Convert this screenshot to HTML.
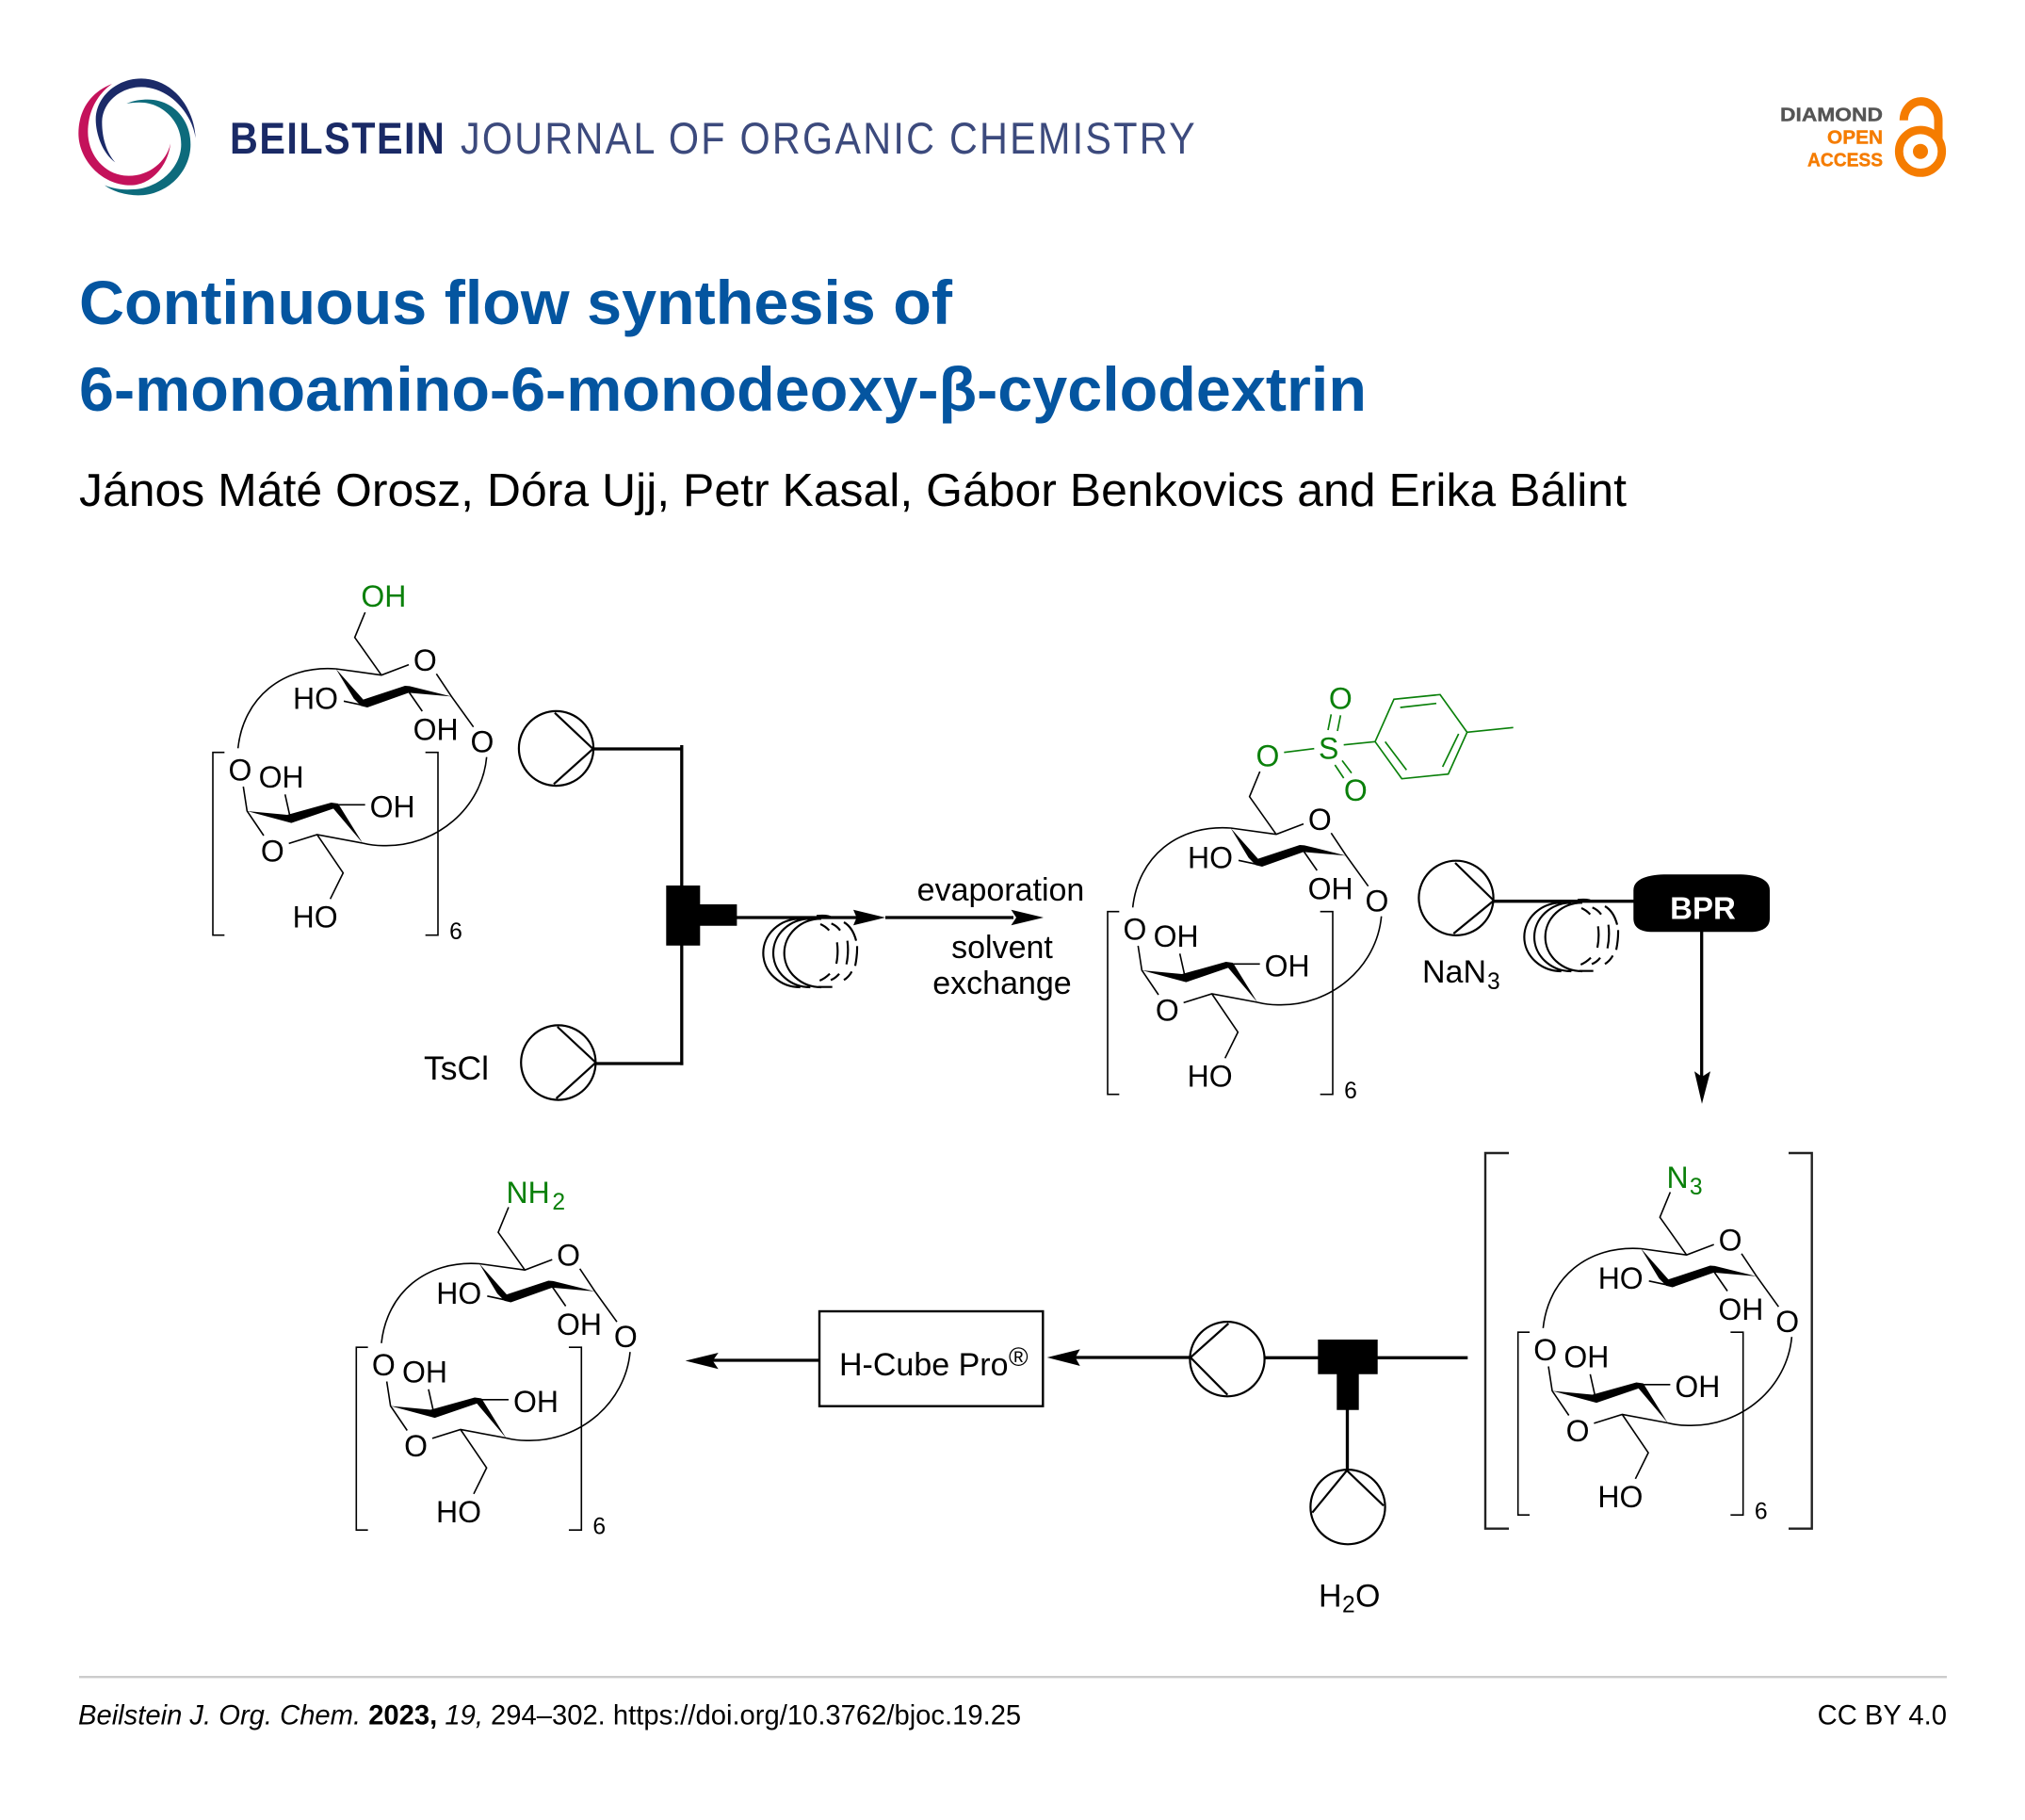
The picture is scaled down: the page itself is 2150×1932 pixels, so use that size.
<!DOCTYPE html>
<html><head><meta charset="utf-8"><style>
html,body{margin:0;padding:0;background:#fff}
svg{display:block}
text{font-family:"Liberation Sans",sans-serif}
.m text{font-size:96px;fill:#000;text-anchor:middle}
.m .s{font-size:74px}
.m .g{fill:#0a800a}
.l{fill:none;stroke:#000;stroke-width:3.3}
.c{fill:none;stroke:#000;stroke-width:2.2}
.t{font-size:34px;fill:#000}
</style></head><body>
<svg width="2150" height="1932" viewBox="0 0 2150 1932" xmlns="http://www.w3.org/2000/svg">
<defs>
<g id="sk">
<path fill="none" stroke="#000" stroke-width="4.8" d="M672,524 L585,557 L440,537 M585,557 L500,437 L533,357 M760,553 L808,625 L878,722 M465,640 L535,655 M665,600 L715,672 M440,537 C270,525 145,630 128,790 M920,818 C905,980 760,1105 590,1100 C565,1100 545,1097 525,1092 M145,912 L157,990 L210,1068 M290,1093 L380,1065 L525,1092 M380,1065 L463,1187 L422,1270 M297,1022 L278,937 M437,970 L533,970 M85,803 H48 V1385 H85 M725,803 H765 V1385 H725"/>
<path fill="#000" d="M440,537 L527,635 L660,591 L675,592 L808,625 L672,613 L540,660 L520,655 L497,632 Z M157,990 L285,1002 L425,963 L447,966 L525,1092 L432,982 L298,1028 Z"/>
</g>
<g id="pr"><circle cx="0" cy="0" r="39.6" fill="none" stroke="#000" stroke-width="2.2"/></g>
<g id="coil" fill="none" stroke="#000" stroke-width="6.5">
<path d="M533,235 A118,109 0 0 0 533,453 M565,235 A118,109 0 0 0 565,453 M600,235 A118,109 0 0 0 600,453"/>
<path d="M597,252 Q612,258 625,272 M650,310 Q655,342 648,378 M595,432 Q612,425 627,410 M632,250 Q648,256 660,272 M683,305 Q688,342 680,380 M630,430 Q645,425 657,410 M672,246 Q700,262 711,305 M714,322 Q715,350 708,385 M672,430 Q688,420 697,403 M590,452 H635 M585,226 Q620,222 635,232"/>
</g>
</defs>

<!-- logo -->
<g transform="translate(75,75) scale(.33333)">
<path fill="#1b2a68" d="M142,292 C100,262 80,200 80,155 C80,85 145,25 225,25 C315,25 392,105 398,215 C385,130 310,52 225,52 C160,52 100,100 100,165 C100,215 115,262 142,292 Z"/>
<path fill="#c4125b" d="M132,42 C60,70 25,130 25,200 C25,285 100,365 190,365 C255,365 310,305 318,232 C305,290 250,335 185,335 C110,335 55,270 55,195 C55,130 85,75 132,42 Z"/>
<path fill="#0d6b7c" d="M178,105 C200,95 225,92 245,92 C325,92 382,155 382,235 C382,320 310,397 215,397 C175,397 135,385 108,365 C140,378 170,380 200,378 C280,375 352,310 352,235 C352,165 300,110 235,102 C215,100 195,102 178,105 Z"/>
</g>
<text transform="translate(244,163) scale(.88,1)" font-size="47" font-weight="700" fill="#1a2a66" textLength="259" lengthAdjust="spacing">BEILSTEIN</text>
<text transform="translate(489,163) scale(.88,1)" font-size="47" fill="#1a2a66" fill-opacity=".85" textLength="886" lengthAdjust="spacing">JOURNAL OF ORGANIC CHEMISTRY</text>

<!-- OA -->
<g font-weight="700" font-size="20.5" stroke-width=".4">
<text x="1890" y="128.3" fill="#555" stroke="#555" textLength="109" lengthAdjust="spacingAndGlyphs">DIAMOND</text>
<text x="1940" y="152.3" fill="#f57c00" stroke="#f57c00" textLength="59" lengthAdjust="spacingAndGlyphs">OPEN</text>
<text x="1919" y="176.7" fill="#f57c00" stroke="#f57c00" textLength="80" lengthAdjust="spacingAndGlyphs">ACCESS</text>
</g>
<circle cx="2039" cy="160.7" r="22.7" fill="none" stroke="#f57c00" stroke-width="8.8"/>
<circle cx="2039" cy="160.7" r="8" fill="#f57c00"/>
<path d="M2021.3,127.7 A18.3,20 0 0 1 2058,127.7 V148" fill="none" stroke="#f57c00" stroke-width="9"/>

<!-- title -->
<text x="84" y="344" font-size="66" font-weight="700" fill="#0455a0" textLength="927" lengthAdjust="spacingAndGlyphs">Continuous flow synthesis of</text>
<text x="84" y="436" font-size="66" font-weight="700" fill="#0455a0" textLength="1367" lengthAdjust="spacingAndGlyphs">6-monoamino-6-monodeoxy-β-cyclodextrin</text>
<text x="84" y="537" font-size="49" fill="#000" textLength="1643" lengthAdjust="spacingAndGlyphs">János Máté Orosz, Dóra Ujj, Petr Kasal, Gábor Benkovics and Erika Bálint</text>

<!-- molecule 1 -->
<g class="m" transform="translate(210,531) scale(.33333)">
<use href="#sk"/>
<text class="g" x="592" y="339">OH</text>
<text x="724" y="543">O</text><text x="906" y="803">O</text><text x="375" y="665">HO</text><text x="758" y="763">OH</text><text x="135" y="892">O</text><text x="266" y="915">OH</text><text x="620" y="1010">OH</text><text x="238" y="1150">O</text><text x="374" y="1360">HO</text><text class="s" x="822" y="1398">6</text>
</g>

<!-- molecule 2 -->
<g class="m" transform="translate(1160,700) scale(.33333)">
<use href="#sk"/>
<text x="724" y="543">O</text><text x="906" y="803">O</text><text x="375" y="665">HO</text><text x="758" y="763">OH</text><text x="135" y="892">O</text><text x="266" y="915">OH</text><text x="620" y="1010">OH</text><text x="238" y="1150">O</text><text x="374" y="1360">HO</text><text class="s" x="822" y="1398">6</text>
<text class="g" x="558" y="340">O</text><text class="g" x="752" y="317">S</text><text class="g" x="790" y="157">O</text><text class="g" x="838" y="450">O</text>
<path fill="none" stroke="#0a800a" stroke-width="5" d="M610,296 L706,284 M800,272 L900,262 M760,175 L750,225 M790,178 L780,228 M795,322 L825,362 M772,336 L800,378 M900,262 L960,127 L1107,112 L1193,232 L1133,365 L985,380 Z M980,153 L1095,140 M1166,237 L1115,342 M932,262 L1000,352 M1193,232 L1340,217"/>
</g>

<!-- molecule 3 -->
<g class="m" transform="translate(1595.7,1146.5) scale(.33333)">
<use href="#sk"/>
<text x="724" y="543">O</text><text x="906" y="803">O</text><text x="375" y="665">HO</text><text x="758" y="763">OH</text><text x="135" y="892">O</text><text x="266" y="915">OH</text><text x="620" y="1010">OH</text><text x="238" y="1150">O</text><text x="374" y="1360">HO</text><text class="s" x="822" y="1398">6</text>
<text class="g" x="556" y="343">N</text><text class="g s" x="615" y="364">3</text>
</g>
<path fill="none" stroke="#222" stroke-width="2.4" d="M1602,1224 H1577 V1622.7 H1602 M1899,1224 H1923.7 V1622.7 H1899"/>

<!-- molecule 4 -->
<g class="m" transform="translate(362.3,1162.5) scale(.33333)">
<use href="#sk"/>
<text class="g" x="595" y="344">NH</text><text class="g s" x="693" y="364">2</text>
<text x="724" y="543">O</text><text x="906" y="803">O</text><text x="375" y="665">HO</text><text x="758" y="763">OH</text><text x="135" y="892">O</text><text x="266" y="915">OH</text><text x="620" y="1010">OH</text><text x="238" y="1150">O</text><text x="374" y="1360">HO</text><text class="s" x="822" y="1398">6</text>
</g>

<!-- pumps -->
<use href="#pr" x="590.5" y="794.5"/>
<path class="c" d="M589,756.7 L629.6,795 L588,832.3"/>
<use href="#pr" x="592.8" y="1128"/>
<path class="c" d="M591.8,1090 L632.6,1128 L590.6,1166"/>
<use href="#pr" x="1546" y="953.3"/>
<path class="c" d="M1545,916 L1586,956 L1543.3,991"/>
<use href="#pr" x="1303" y="1442.7"/>
<path class="c" d="M1304.3,1405 L1264,1441 L1303.3,1480.7"/>
<use href="#pr" x="1431" y="1599.7"/>
<path class="c" d="M1393.3,1605.7 L1430,1561 L1469,1598.3"/>

<!-- coils -->
<g transform="translate(672,897) scale(.33333)"><use href="#coil"/></g>
<g transform="translate(1480,880) scale(.33333)"><use href="#coil"/></g>

<!-- connectors 1 -->
<path class="l" d="M630,795 H724 M723.8,791 V1130.7 M632,1129 H725.5"/>
<path d="M707.3,940 H743.3 V960 H782.4 V982.7 H743.3 V1003.7 H707.3 Z" fill="#000"/>
<path class="l" d="M782,974 H910 M940,974 H1076"/>
<path d="M940,974 L906,965.7 L909.5,974 L906,982.3 Z M1108,974 L1073.5,965.7 L1079,974 L1073.5,982.3 Z" fill="#000"/>

<!-- connectors 2 -->
<path class="l" d="M1586,956.7 H1736"/>
<path d="M1734.3,945 C1734.3,932 1752,928.3 1770,928.3 H1845 C1862,928.3 1879,932 1879,945 V975 C1879,985 1870,989.3 1858,989.3 H1755 C1742,989.3 1734.3,985 1734.3,975 Z" fill="#000"/>
<text x="1808" y="975.7" font-size="33" font-weight="700" fill="#fff" text-anchor="middle">BPR</text>
<path class="l" d="M1806.7,989 V1146"/>
<path d="M1807,1171.7 L1799,1137.3 L1807,1143 L1816,1137.3 Z" fill="#000"/>

<!-- connectors 3 -->
<path class="l" d="M1264,1441 H1141 M1342.7,1441.3 H1400 M1462,1441.3 H1558.3 M1430.5,1496 V1561"/>
<path d="M1399.3,1422 H1462.7 V1458.7 H1442.7 V1496.7 H1419.3 V1458.7 H1399.3 Z" fill="#000"/>
<path d="M1111.7,1441 L1146.7,1432.3 L1141.7,1441 L1146.7,1450 Z" fill="#000"/>
<rect x="870" y="1392" width="237.3" height="100.7" fill="#fff" stroke="#000" stroke-width="2.4"/>
<path class="l" d="M870,1444 H755"/>
<path d="M727.7,1444.5 L762.7,1436 L756.7,1444.5 L762.7,1453.3 Z" fill="#000"/>

<!-- labels -->
<text class="t" x="1062.5" y="956" text-anchor="middle">evaporation</text>
<text class="t" x="1064" y="1017" text-anchor="middle">solvent</text>
<text class="t" x="1064" y="1055" text-anchor="middle">exchange</text>
<text class="t" x="450" y="1146" style="font-size:35.5px">TsCl</text>
<text class="t" x="1510" y="1043">NaN</text><text x="1579" y="1050" font-size="24.6">3</text>
<text class="t" x="891" y="1460">H-Cube Pro</text><text x="1071" y="1450" font-size="28">®</text>
<text class="t" x="1400" y="1705.7">H</text><text x="1425" y="1711.7" font-size="24.6">2</text><text class="t" x="1439" y="1705.7">O</text>

<!-- footer -->
<rect x="84" y="1779" width="1983" height="2.4" fill="#ccc"/>
<text x="83" y="1830.7" font-size="29.2" fill="#000"><tspan font-style="italic">Beilstein J. Org. Chem.</tspan> <tspan font-weight="700">2023,</tspan> <tspan font-style="italic">19,</tspan> 294–302. https://doi.org/10.3762/bjoc.19.25</text>
<text x="2067" y="1830.7" font-size="29.2" fill="#000" text-anchor="end">CC BY 4.0</text>
</svg>
</body></html>
